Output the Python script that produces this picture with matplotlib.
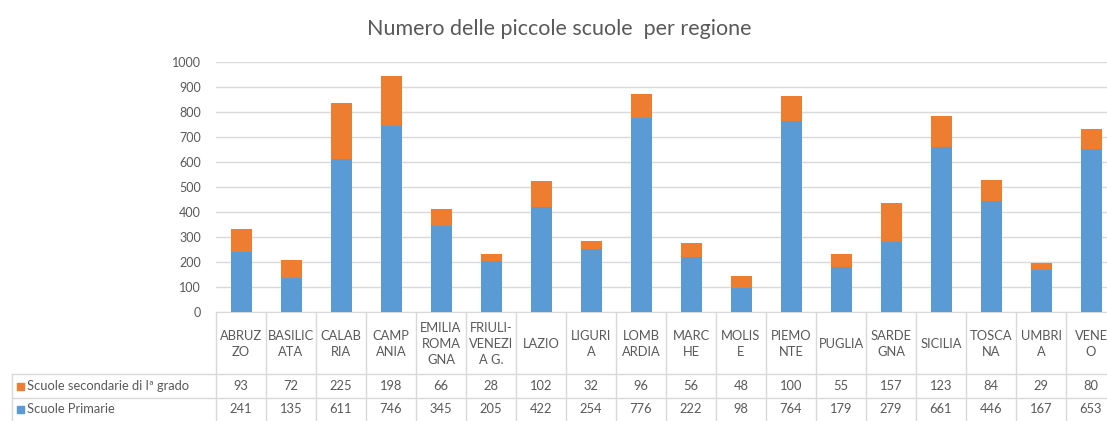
import matplotlib
matplotlib.use("Agg")
import matplotlib.pyplot as plt
from matplotlib.transforms import blended_transform_factory
from matplotlib.lines import Line2D
from matplotlib.patches import Rectangle

regions = ["ABRUZ\nZO", "BASILIC\nATA", "CALAB\nRIA", "CAMP\nANIA", "EMILIA\nROMA\nGNA",
           "FRIULI-\nVENEZI\nA G.", "LAZIO", "LIGURI\nA", "LOMB\nARDIA", "MARC\nHE",
           "MOLIS\nE", "PIEMO\nNTE", "PUGLIA", "SARDE\nGNA", "SICILIA", "TOSCA\nNA",
           "UMBRI\nA", "VENE\nO"]
secondarie = [93, 72, 225, 198, 66, 28, 102, 32, 96, 56, 48, 100, 55, 157, 123, 84, 29, 80]
primarie = [241, 135, 611, 746, 345, 205, 422, 254, 776, 222, 98, 764, 179, 279, 661, 446, 167, 653]
series_names = ["Scuole secondarie di Iª grado", "Scuole Primarie"]
title = "Numero delle piccole scuole  per regione"
yticks = [0, 100, 200, 300, 400, 500, 600, 700, 800, 900, 1000]

BLUE = "#5B9BD5"
ORANGE = "#ED7D31"
TXT = "#595959"
GRID = "#D9D9D9"

plt.rcParams['font.family'] = ['Lato', 'DejaVu Sans']

W, H = 1107, 421
fig = plt.figure(figsize=(W / 100, H / 100), dpi=100)
px_left, px_right, px_bottom, px_top = 216, 1116, 312, 62
ax = fig.add_axes([px_left / W, (H - px_bottom) / H, (px_right - px_left) / W, (px_bottom - px_top) / H])

n = len(regions)
x = list(range(n))
ax.bar(x, primarie, width=0.42, color=BLUE, zorder=3)
ax.bar(x, secondarie, width=0.42, bottom=primarie, color=ORANGE, zorder=3)

ax.set_xlim(-0.5, n - 0.5)
ax.set_ylim(0, 1000)
ax.set_yticks(yticks)
ax.yaxis.grid(True, color=GRID, linewidth=1, zorder=0)
ax.set_xticks([])
for s in ["top", "right", "left"]:
    ax.spines[s].set_visible(False)
ax.spines["bottom"].set_color(GRID)
ax.tick_params(axis="y", length=0, pad=11, labelsize=9, labelcolor=TXT)

fig.text(559 / W, 1 - 29 / H, title, ha="center", va="center", fontsize=15.5, color=TXT)

# table below the axis
axh = px_bottom - px_top
def ya(py):
    return (px_bottom - py) / axh
def xd(px):
    return (px - px_left) / 50.0 - 0.5

tr = blended_transform_factory(ax.transData, ax.transAxes)
row1, row2, rowb = 374, 398, 422
lab_left = xd(12)
FS = 9.3

for py in (row1, row2):
    ax.add_line(Line2D([lab_left, n - 0.5], [ya(py), ya(py)], transform=tr, color=GRID, lw=1, clip_on=False))
for i in range(n + 1):
    xv = i - 0.5
    ax.add_line(Line2D([xv, xv], [0, ya(rowb)], transform=tr, color=GRID, lw=1, clip_on=False))
ax.add_line(Line2D([lab_left, lab_left], [ya(row1), ya(rowb)], transform=tr, color=GRID, lw=1, clip_on=False))

for i, name in enumerate(regions):
    ax.text(i, ya((px_bottom + row1) / 2 + 1), name, transform=tr, ha="center", va="center",
            fontsize=FS, color=TXT, linespacing=1.35, clip_on=False)
    ax.text(i, ya((row1 + row2) / 2), str(secondarie[i]), transform=tr, ha="center", va="center",
            fontsize=FS, color=TXT, clip_on=False)
    ax.text(i, ya((row2 + rowb) / 2 - 1), str(primarie[i]), transform=tr, ha="center", va="center",
            fontsize=FS, color=TXT, clip_on=False)

for (py, color, name) in [((row1 + row2) / 2, ORANGE, series_names[0]),
                          ((row2 + rowb) / 2 - 1, BLUE, series_names[1])]:
    fig.patches.append(Rectangle((17 / W, 1 - (py + 3.5) / H), 7 / W, 7 / H,
                                 transform=fig.transFigure, color=color))
    fig.text(27 / W, 1 - py / H, name, ha="left", va="center", fontsize=FS, color=TXT)

fig.savefig("out.png", dpi=100)
